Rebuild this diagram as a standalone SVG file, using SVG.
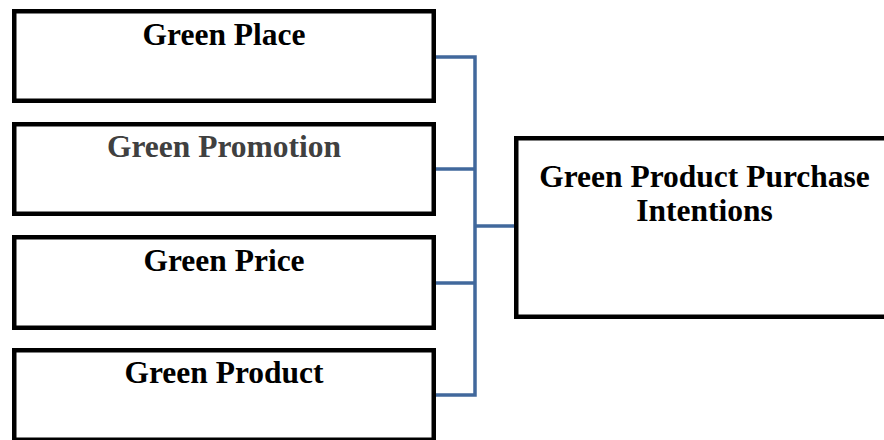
<svg xmlns="http://www.w3.org/2000/svg" width="884" height="440" viewBox="0 0 884 440">
<style>
.box{fill:#fff;stroke:#000;stroke-width:4.5}
.t{font-family:"Liberation Serif","Times New Roman",serif;font-weight:bold;font-size:31.5px;text-anchor:middle;fill:#000}
.g{fill:#404040}
.c{fill:none;stroke:#41689c;stroke-width:3.5;stroke-linejoin:miter}
</style>
<rect width="884" height="440" fill="#fff"/>
<g id="connectors">
<path class="c" d="M436 57H475V395H436"/>
<path class="c" d="M436 169H475"/>
<path class="c" d="M436 283H475"/>
<path class="c" d="M475 226H516"/>
</g>
<g id="place"><rect class="box" x="14.25" y="11.25" width="419.5" height="89.5"/><text class="t" x="224" y="45">Green Place</text></g>
<g id="promotion"><rect class="box" x="14.25" y="124.25" width="419.5" height="89.5"/><text class="t g" x="224" y="157">Green Promotion</text></g>
<g id="price"><rect class="box" x="14.25" y="237.25" width="419.5" height="90.5"/><text class="t" x="224" y="271">Green Price</text></g>
<g id="product"><rect class="box" x="14.25" y="350.25" width="419.5" height="89.5"/><text class="t" x="224" y="383">Green Product</text></g>
<g id="intentions"><rect class="box" x="516.25" y="138.25" width="380" height="178.5"/><text class="t" x="704.5" y="187">Green Product Purchase</text><text class="t" x="704.5" y="221">Intentions</text></g>
</svg>
